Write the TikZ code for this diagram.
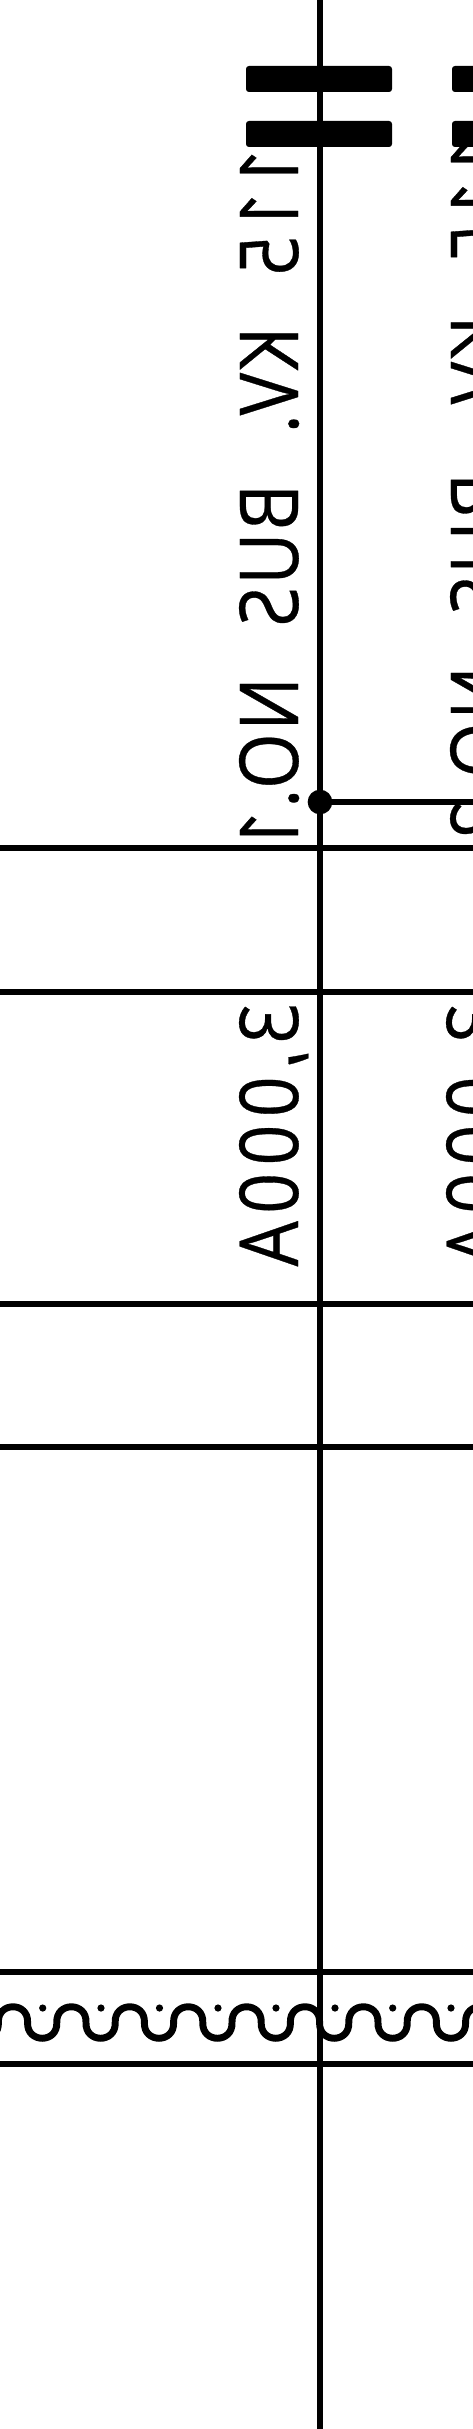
\documentclass[tikz,border=0pt]{standalone}
\usepackage{fontspec}
\newfontfamily\busfont[FakeStretch=0.88,LetterSpace=3,WordSpace=2.4,FakeBold=0.4]{Open Sans}
\newfontfamily\ampfont[FakeStretch=0.88,LetterSpace=9,FakeBold=0.4]{Open Sans}
\tikzset{
  wire/.style={line width=4.9pt,black},
  thinline/.style={line width=4.6pt,black},
  busbar/.style={fill=black,rounded corners=2.2pt,minimum width=109.5pt,minimum height=19.5pt,inner sep=0pt},
  junction/.style={circle,fill=black,minimum size=18.5pt,inner sep=0pt},
  tick/.style={circle,fill=black,minimum size=5.4pt,inner sep=0pt},
  label/.style={rotate=-90,yscale=-1,anchor=base west,inner sep=0pt},
  buslabel/.style={label,font=\busfont\fontsize{61pt}{61pt}\selectfont},
  amplabel/.style={label,font=\ampfont\fontsize{61pt}{61pt}\selectfont},
}
\begin{document}
\begin{tikzpicture}[x=0.75pt,y=-0.75pt]
\useasboundingbox (0,0) rectangle (473,2429);
\clip (0,0) rectangle (473,2429);
\fill[white] (0,0) rectangle (473,2429);
% horizontal rules
\foreach \yy in {848,992,1304,1447,1972,2064}{
  \draw[thinline] (-5,\yy) -- (478,\yy);
}
% bus bars
\node[busbar] (bara1) at (319,79) {};
\node[busbar] (bara2) at (319,134) {};
\node[busbar] (barb1) at (525,79) {};
\node[busbar] (barb2) at (525,134) {};
% feeder
\coordinate (top) at (320,-5);
\coordinate (bottom) at (320,2434);
\draw[wire] (top) -- (bottom);
% tap
\node[junction] (tap) at (320,802) {};
\coordinate (tapend) at (478,802);
\draw[wire] (tap.center) -- (tapend);
% labels
\node[buslabel] (buslabela) at (298,148) {115 KV. BUS NO.1};
\node[buslabel] (buslabelb) at (509,137) {115 KV. BUS NO.2};
\node[amplabel] (ampa) at (298,1003) {3,000A};
\node[amplabel] (ampb) at (505,1003) {3,000A};
% winding
\draw[line width=5.2pt,black]
  (-60,2022.5)
  foreach \k in {0,...,9}{
    .. controls +(-1,-21) and +(1,-21) .. ++(29.2,0)
    .. controls +(-1,21) and +(1,21) .. ++(29.2,0)
  };
\foreach \xx/\nm in {42.7/a,101/b,159.5/c,218/d,276/e,335/f,392.7/g,451/h}{
  \node[tick] (dot\nm) at (\xx,2008) {};
}
\end{tikzpicture}
\end{document}
